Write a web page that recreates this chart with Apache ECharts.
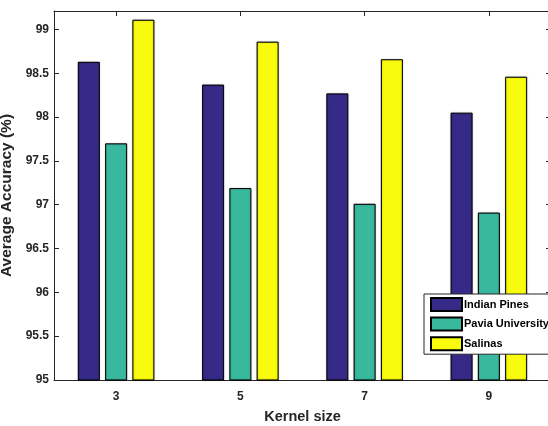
<!DOCTYPE html>
<html>
<head>
<meta charset="utf-8">
<script src="https://cdn.jsdelivr.net/npm/echarts@6/dist/echarts.min.js"></script>
<style>
html,body{margin:0;padding:0;background:#fff;}
#chart{width:548px;height:426px;}
</style>
</head>
<body>
<div id="chart"></div>
<script>
const categories = ['3', '5', '7', '9'];
const indianPines = [98.63, 98.37, 98.27, 98.05];
const paviaUniversity = [97.70, 97.19, 97.01, 96.91];
const salinas = [99.11, 98.86, 98.66, 98.46];
const seriesNames = ['Indian Pines', 'Pavia University', 'Salinas'];
const yMin = 95, yMax = 99.21, yStep = 0.5;

const FONT = '"Liberation Sans", Arial, sans-serif';
const INK = '#262626';
const colors = ['#352a87', '#38b99e', '#f9fb0e'];

const chart = echarts.init(document.getElementById('chart'), null, {renderer: 'canvas'});

function barSeries(name, data, color) {
  return {
    name: name,
    type: 'bar',
    data: data,
    barWidth: 22,
    barGap: '24%',
    xAxisIndex: 0,
    yAxisIndex: 0,
    itemStyle: {
      color: color,
      borderColor: '#000',
      borderWidth: 1,
      shadowColor: 'rgba(0,0,0,0.35)',
      shadowBlur: 1.5
    },
    emphasis: {disabled: true},
    animation: false
  };
}

const option = {
  animation: false,
  grid: {left: 54, top: 11, width: 497, height: 369, containLabel: false, outerBoundsMode: 'none'},
  legend: {
    orient: 'vertical',
    left: 424,
    top: 294,
    padding: [3, 40, 3, 6],
    itemWidth: 31,
    itemHeight: 13,
    itemGap: 4.6,
    icon: 'rect',
    backgroundColor: '#fff',
    borderColor: INK,
    borderWidth: 1,
    borderRadius: 0,
    data: seriesNames,
    textStyle: {fontFamily: FONT, fontWeight: 'bold', fontSize: 11, color: '#000', padding: [0, 0, 0, -3]}
  },
  xAxis: [
    {
      type: 'category',
      data: categories,
      position: 'bottom',
      name: 'Kernel size',
      nameLocation: 'middle',
      nameGap: 29,
      nameTextStyle: {fontFamily: FONT, fontWeight: 'bold', fontSize: 14.5, color: INK},
      axisLine: {show: true, lineStyle: {color: INK, width: 1}},
      axisTick: {show: true, inside: true, length: 5, alignWithLabel: true, lineStyle: {color: INK}},
      axisLabel: {fontFamily: FONT, fontWeight: 'bold', fontSize: 12, color: INK, margin: 11},
      splitLine: {show: false}
    },
    {
      type: 'category',
      data: categories,
      position: 'top',
      axisLine: {show: true, lineStyle: {color: INK, width: 1}},
      axisTick: {show: true, inside: true, length: 5, alignWithLabel: true, lineStyle: {color: INK}},
      axisLabel: {show: false},
      splitLine: {show: false}
    }
  ],
  yAxis: [
    {
      type: 'value',
      min: yMin,
      max: yMax,
      interval: yStep,
      position: 'left',
      name: 'Average Accuracy (%)',
      nameLocation: 'middle',
      nameGap: 33,
      nameTextStyle: {fontFamily: FONT, fontWeight: 'bold', fontSize: 15.5, color: INK},
      axisLine: {show: true, lineStyle: {color: INK, width: 1}},
      axisTick: {show: true, inside: true, length: 5, lineStyle: {color: INK}},
      axisLabel: {
        fontFamily: FONT, fontWeight: 'bold', fontSize: 12, color: INK, margin: 5,
        formatter: function (v) {
          return Math.abs(v / yStep - Math.round(v / yStep)) < 1e-6 ? String(+v.toFixed(1)) : '';
        }
      },
      splitLine: {show: false}
    },
    {
      type: 'value',
      min: yMin,
      max: yMax,
      interval: yStep,
      position: 'right',
      axisLine: {show: true, lineStyle: {color: INK, width: 1}},
      axisTick: {show: true, inside: true, length: 5, lineStyle: {color: INK}},
      axisLabel: {show: false},
      splitLine: {show: false}
    }
  ],
  series: [
    barSeries(seriesNames[0], indianPines, colors[0]),
    barSeries(seriesNames[1], paviaUniversity, colors[1]),
    barSeries(seriesNames[2], salinas, colors[2])
  ]
};
chart.setOption(option);
</script>
</body>
</html>
